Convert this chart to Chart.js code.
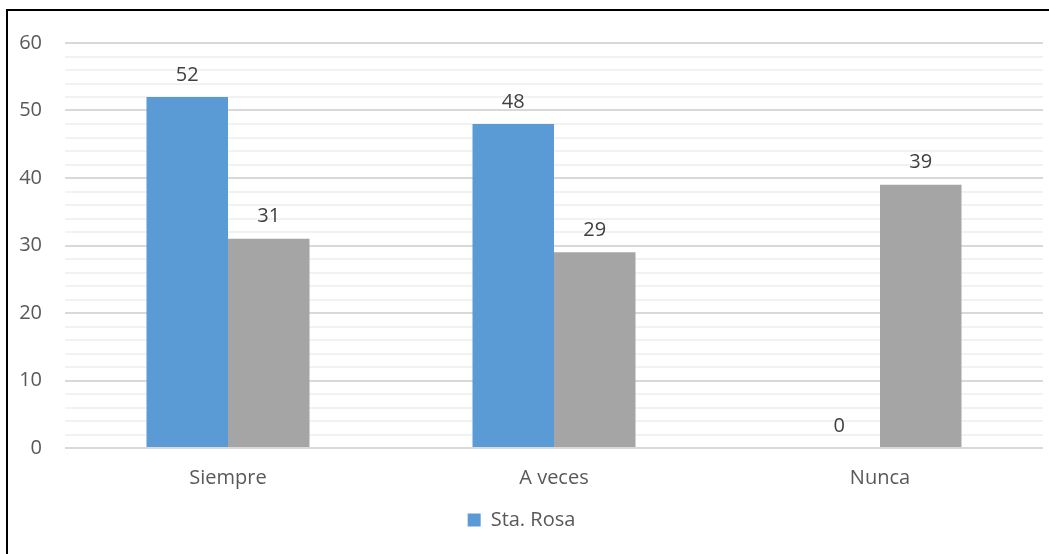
<!DOCTYPE html>
<html>
<head>
<meta charset="utf-8">
<script src="https://cdn.jsdelivr.net/npm/chart.js@4"></script>
<style>
html,body{margin:0;padding:0;background:#fff;}
#wrap{position:absolute;left:0;top:0;width:1049px;height:554px;}
</style>
</head>
<body>
<div id="wrap"><canvas id="c" width="1049" height="554"></canvas></div>
<script>
const categories = ['Siempre', 'A veces', 'Nunca'];
const staRosa = [52, 48, 0];
const otra = [31, 29, 39];
const seriesNames = ['Sta. Rosa', ''];
const yTickLabels = [0, 10, 20, 30, 40, 50, 60];

const FONT = "'Open Sans', 'Noto Sans', sans-serif";

const borderPlugin = {
  id: 'frame',
  beforeDraw(chart) {
    const ctx = chart.ctx;
    ctx.save();
    ctx.fillStyle = '#fff';
    ctx.fillRect(0, 0, chart.width, chart.height);
    ctx.strokeStyle = '#000';
    ctx.lineWidth = 2;
    ctx.strokeRect(7, 10, chart.width + 20, chart.height + 20);
    ctx.restore();
  }
};

const labelPlugin = {
  id: 'valLabels',
  afterDatasetsDraw(chart) {
    const ctx = chart.ctx;
    ctx.save();
    ctx.font = '20px ' + FONT;
    ctx.fillStyle = '#404040';
    ctx.textAlign = 'center';
    ctx.textBaseline = 'middle';
    chart.data.datasets.forEach((ds, i) => {
      const meta = chart.getDatasetMeta(i);
      meta.data.forEach((bar, j) => {
        ctx.fillText(String(ds.data[j]), bar.x, bar.y - 22);
      });
    });
    ctx.restore();
  }
};

new Chart(document.getElementById('c'), {
  type: 'bar',
  data: {
    labels: categories,
    datasets: [
      { label: seriesNames[0], data: staRosa, backgroundColor: '#5B9BD5', categoryPercentage: 0.5, barPercentage: 1.0 },
      { label: seriesNames[1], data: otra, backgroundColor: '#A5A5A5', categoryPercentage: 0.5, barPercentage: 1.0 }
    ]
  },
  plugins: [borderPlugin, labelPlugin],
  options: {
    responsive: false,
    animation: false,
    devicePixelRatio: 1,
    layout: { padding: { left: 0, right: 6, top: 43, bottom: 14 } },
    plugins: {
      tooltip: { enabled: false },
      legend: {
        position: 'bottom',
        labels: {
          filter: item => item.text !== '',
          boxWidth: 13, boxHeight: 13,
          padding: 10,
          color: '#595959',
          font: { family: FONT, size: 20 }
        }
      }
    },
    scales: {
      x: {
        grid: { display: false, drawTicks: false },
        border: { display: false },
        ticks: { color: '#595959', font: { family: FONT, size: 20 }, padding: 18 },
        afterFit: s => { s.height = 52; }
      },
      y: {
        min: 0, max: 60,
        grid: {
          drawTicks: false,
          color: ctx => (ctx.tick && ctx.tick.value % 10 === 0) ? '#d9d9d9' : '#f2f2f2',
          lineWidth: 2
        },
        border: { display: false },
        ticks: {
          stepSize: 2,
          autoSkip: false,
          color: '#595959',
          padding: 23,
          font: { family: FONT, size: 20 },
          callback: v => yTickLabels.includes(v) ? String(v) : ''
        },
        afterFit: s => { s.width = 65; }
      }
    }
  }
});
</script>
</body>
</html>
